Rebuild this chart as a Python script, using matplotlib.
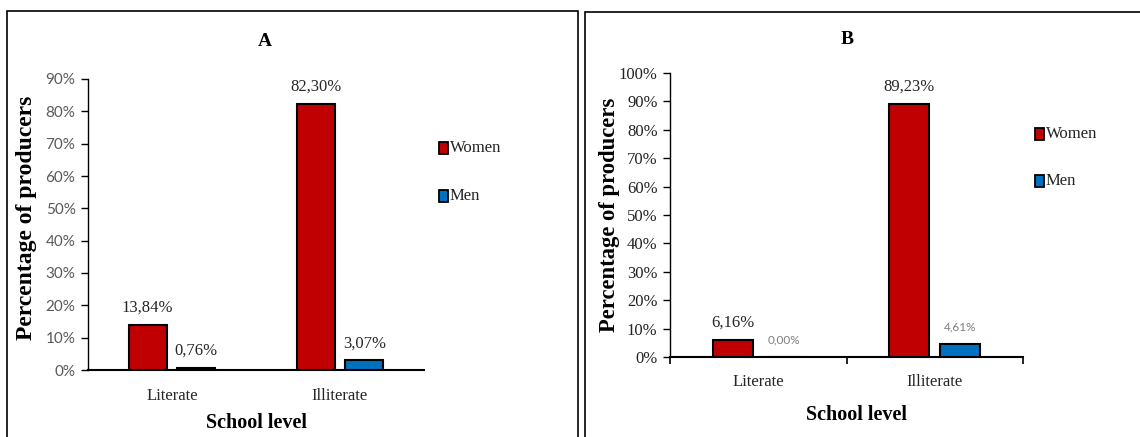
import matplotlib
matplotlib.use("Agg")
import matplotlib.pyplot as plt
from matplotlib.patches import Rectangle

categories = ["Literate", "Illiterate"]
women_A = [13.84, 82.30]
men_A = [0.76, 3.07]
women_B = [6.16, 89.23]
men_B = [0.00, 4.61]
labels_women_A = ["13,84%", "82,30%"]
labels_men_A = ["0,76%", "3,07%"]
labels_women_B = ["6,16%", "89,23%"]
labels_men_B = ["0,00%", "4,61%"]
yticks_A = list(range(0, 91, 10))
yticks_B = list(range(0, 101, 10))

RED = "#C00000"
BLUE = "#0070C0"
SERIF = "Liberation Serif"
SANS = "Lato"

W, H = 1140, 437
fig = plt.figure(figsize=(W / 100, H / 100), dpi=100)

def px_axes(x0, x1, ytop, ybot):
    return fig.add_axes([x0 / W, (H - ybot) / H, (x1 - x0) / W, (ybot - ytop) / H])

# panel borders
fig.add_artist(Rectangle((7 / W, -0.1), (578 - 7) / W, (H - 11) / H + 0.1,
                         transform=fig.transFigure, fill=False, ec="black", lw=1.2))
fig.add_artist(Rectangle((585 / W, -0.1), (1145 - 585) / W, (H - 12) / H + 0.1,
                         transform=fig.transFigure, fill=False, ec="black", lw=1.2))

def draw_panel(ax, women, men, lw_labels, lm_labels, yticks, ymax, tick_font, tick_color,
               tick_size, men_label_font, men_label_size, men_label_color, xticks_marks, xpad):
    x = [0, 1]
    off = 0.145
    bw = 0.225
    ax.bar([i - off for i in x], women, width=bw, color=RED, edgecolor="black", linewidth=1.5, zorder=3)
    ax.bar([i + off for i in x], men, width=bw, color=BLUE, edgecolor="black", linewidth=1.5, zorder=3)
    for i in x:
        ax.annotate(lw_labels[i], (i - off, women[i]), xytext=(0, 12.5), textcoords="offset points",
                    ha="center", va="center", fontsize=12, family=SERIF, color="#262626")
        ax.annotate(lm_labels[i], (i + off, men[i]), xytext=(0, 12), textcoords="offset points",
                    ha="center", va="center", fontsize=men_label_size, family=men_label_font,
                    color=men_label_color)
    ax.set_xlim(-0.5, 1.5)
    ax.set_ylim(0, ymax)
    ax.set_yticks(yticks)
    ax.set_yticklabels([f"{t}%" for t in yticks], fontsize=tick_size, family=tick_font, color=tick_color)
    if xticks_marks:
        ax.set_xticks([-0.5, 0.5, 1.5], minor=False)
        ax.set_xticklabels([])
        ax.set_xticks(x, minor=True)
        ax.set_xticklabels(categories, minor=True, fontsize=12, family=SERIF, color="#262626")
        ax.tick_params(axis="x", which="major", length=5, width=1.2, direction="out")
        ax.tick_params(axis="x", which="minor", length=0, pad=xpad)
    else:
        ax.set_xticks(x)
        ax.set_xticklabels(categories, fontsize=12, family=SERIF, color="#262626")
        ax.tick_params(axis="x", length=0, pad=xpad)
    ax.tick_params(axis="y", length=5, width=1.0, direction="out", pad=4)
    for s in ["top", "right"]:
        ax.spines[s].set_visible(False)
    ax.spines["left"].set_linewidth(1.0)
    ax.spines["bottom"].set_linewidth(1.5)
    ax.patch.set_alpha(0)

axA = px_axes(88, 424, 79, 370)
draw_panel(axA, women_A, men_A, labels_women_A, labels_men_A, yticks_A, 90,
           SANS, "#595959", 11, SERIF, 12, "#262626", False, 13)
axB = px_axes(670, 1023, 73, 357)
draw_panel(axB, women_B, men_B, labels_women_B, labels_men_B, yticks_B, 100,
           SERIF, "#222222", 12, SANS, 8.5, "#7f7f7f", True, 12)

# titles and axis labels
fig.text(265 / W, 1 - 42 / H, "A", ha="center", va="center", fontsize=14, fontweight="bold", family=SERIF)
fig.text(847 / W, 1 - 40 / H, "B", ha="center", va="center", fontsize=14, fontweight="bold", family=SERIF)
fig.text(27 / W, 1 - 218 / H, "Percentage of producers", rotation=90, ha="center", va="center",
         fontsize=17, fontweight="bold", family=SERIF)
fig.text(609 / W, 1 - 215 / H, "Percentage of producers", rotation=90, ha="center", va="center",
         fontsize=16.3, fontweight="bold", family=SERIF)
fig.text(257 / W, 1 - 423 / H, "School level", ha="center", va="center", fontsize=14.5,
         fontweight="bold", family=SERIF)
fig.text(856 / W, 1 - 415 / H, "School level", ha="center", va="center", fontsize=14.5,
         fontweight="bold", family=SERIF)

# legends
def legend(x, y_w, y_m):
    for y, c, t in [(y_w, RED, "Women"), (y_m, BLUE, "Men")]:
        fig.add_artist(Rectangle((x / W, 1 - (y + 6) / H), 9 / W, 12 / H, transform=fig.transFigure,
                                 facecolor=c, edgecolor="black", lw=1.3))
        fig.text((x + 11) / W, 1 - y / H, t, ha="left", va="center", fontsize=12, family=SERIF,
                 color="#222222")

legend(439, 148, 196)
legend(1035, 134, 181)

fig.savefig("out.png", dpi=100)
